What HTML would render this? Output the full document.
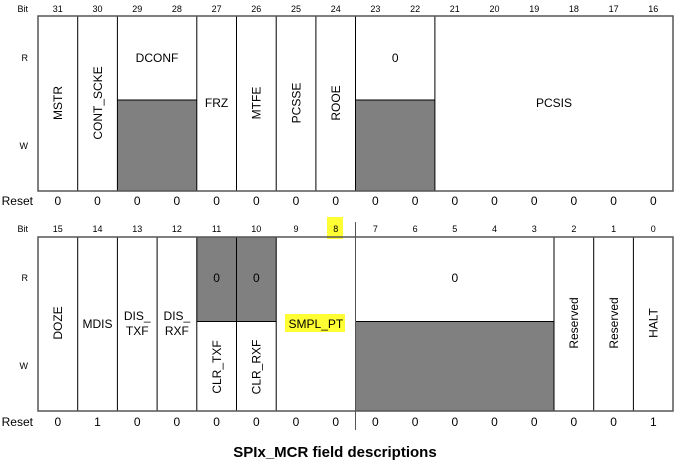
<!DOCTYPE html>
<html><head><meta charset="utf-8"><style>
html,body{margin:0;padding:0;background:#fff;width:677px;height:462px;overflow:hidden}
text{font-family:"Liberation Sans",Arial,sans-serif;fill:#000}
</style></head><body>
<svg width="677" height="462" viewBox="0 0 677 462" xmlns="http://www.w3.org/2000/svg">
<!-- highlights -->
<rect x="327" y="217" width="16" height="22" fill="#ffff33"/>
<rect x="285" y="314" width="60" height="18" fill="#ffff33"/>

<!-- TOP REGISTER -->
<g font-size="9" text-anchor="middle">
<text x="28" y="12" text-anchor="end">Bit</text>
<text x="57.8" y="12">31</text><text x="97.5" y="12">30</text><text x="137.2" y="12">29</text><text x="176.9" y="12">28</text>
<text x="216.6" y="12">27</text><text x="256.3" y="12">26</text><text x="296" y="12">25</text><text x="335.7" y="12">24</text>
<text x="375.4" y="12">23</text><text x="415.1" y="12">22</text><text x="454.8" y="12">21</text><text x="494.5" y="12">20</text>
<text x="534.2" y="12">19</text><text x="573.9" y="12">18</text><text x="613.6" y="12">17</text><text x="653.3" y="12">16</text>
<text x="28" y="61" text-anchor="end">R</text>
<text x="28" y="149" text-anchor="end">W</text>
</g>
<rect x="117.4" y="100" width="79.4" height="91" fill="#808080"/>
<rect x="355.5" y="100" width="79.4" height="91" fill="#808080"/>
<g stroke="#000" stroke-width="1">
<line x1="77.7" y1="16" x2="77.7" y2="191"/><line x1="117.4" y1="16" x2="117.4" y2="191"/>
<line x1="196.8" y1="16" x2="196.8" y2="191"/><line x1="236.5" y1="16" x2="236.5" y2="191"/>
<line x1="276.2" y1="16" x2="276.2" y2="191"/><line x1="315.9" y1="16" x2="315.9" y2="191"/>
<line x1="355.5" y1="16" x2="355.5" y2="191"/><line x1="434.9" y1="16" x2="434.9" y2="191"/>
<line x1="117.4" y1="100" x2="196.8" y2="100"/><line x1="355.5" y1="100" x2="434.9" y2="100"/>
</g>
<rect x="38" y="16" width="635" height="175" fill="none" stroke="#555" stroke-width="1.5"/>
<g font-size="12" text-anchor="middle">
<text x="157" y="62">DCONF</text>
<text x="216.6" y="107">FRZ</text>
<text x="395.2" y="62">0</text>
<text x="554" y="107">PCSIS</text>
<text transform="translate(62,103) rotate(-90)">MSTR</text>
<text transform="translate(101.9,103) rotate(-90)">CONT_SCKE</text>
<text transform="translate(260.7,103) rotate(-90)">MTFE</text>
<text transform="translate(300.4,103) rotate(-90)">PCSSE</text>
<text transform="translate(340.1,103) rotate(-90)">ROOE</text>
</g>
<g font-size="12" text-anchor="middle">
<text x="33" y="205" text-anchor="end">Reset</text>
<text x="57.8" y="205">0</text><text x="97.5" y="205">0</text><text x="137.2" y="205">0</text><text x="176.9" y="205">0</text>
<text x="216.6" y="205">0</text><text x="256.3" y="205">0</text><text x="296" y="205">0</text><text x="335.7" y="205">0</text>
<text x="375.4" y="205">0</text><text x="415.1" y="205">0</text><text x="454.8" y="205">0</text><text x="494.5" y="205">0</text>
<text x="534.2" y="205">0</text><text x="573.9" y="205">0</text><text x="613.6" y="205">0</text><text x="653.3" y="205">0</text>
</g>

<!-- BOTTOM REGISTER -->
<g font-size="9" text-anchor="middle">
<text x="28" y="232" text-anchor="end">Bit</text>
<text x="57.8" y="232">15</text><text x="97.5" y="232">14</text><text x="137.2" y="232">13</text><text x="176.9" y="232">12</text>
<text x="216.6" y="232">11</text><text x="256.3" y="232">10</text><text x="296" y="232">9</text><text x="335.7" y="232">8</text>
<text x="375.4" y="232">7</text><text x="415.1" y="232">6</text><text x="454.8" y="232">5</text><text x="494.5" y="232">4</text>
<text x="534.2" y="232">3</text><text x="573.9" y="232">2</text><text x="613.6" y="232">1</text><text x="653.3" y="232">0</text>
<text x="28" y="281" text-anchor="end">R</text>
<text x="28" y="369" text-anchor="end">W</text>
</g>
<rect x="196.8" y="237" width="79.4" height="84.5" fill="#808080"/>
<rect x="355.5" y="321.5" width="198.5" height="89.5" fill="#808080"/>
<g stroke="#000" stroke-width="1">
<line x1="77.7" y1="237" x2="77.7" y2="411"/><line x1="117.4" y1="237" x2="117.4" y2="411"/>
<line x1="157.1" y1="237" x2="157.1" y2="411"/><line x1="196.8" y1="237" x2="196.8" y2="411"/>
<line x1="236.5" y1="237" x2="236.5" y2="411"/><line x1="276.2" y1="237" x2="276.2" y2="411"/>
<line x1="554" y1="237" x2="554" y2="411"/><line x1="593.7" y1="237" x2="593.7" y2="411"/>
<line x1="633.4" y1="237" x2="633.4" y2="411"/>
<line x1="196.8" y1="321.5" x2="276.2" y2="321.5"/><line x1="355.5" y1="321.5" x2="554" y2="321.5"/>
</g>
<line x1="355.5" y1="222" x2="355.5" y2="430" stroke="#555" stroke-width="1"/>
<rect x="38" y="237" width="635" height="174" fill="none" stroke="#555" stroke-width="1.5"/>
<g font-size="12" text-anchor="middle">
<text x="216.6" y="282">0</text><text x="256.3" y="282">0</text>
<text x="454.8" y="282">0</text>
<text x="97.5" y="328">MDIS</text>
<text x="137.2" y="320">DIS_</text><text x="137.2" y="335">TXF</text>
<text x="176.9" y="320">DIS_</text><text x="176.9" y="335">RXF</text>
<text x="315.9" y="328">SMPL_PT</text>
<text transform="translate(62,323) rotate(-90)">DOZE</text>
<text transform="translate(220.8,367) rotate(-90)">CLR_TXF</text>
<text transform="translate(260.5,367) rotate(-90)">CLR_RXF</text>
<text transform="translate(578.1,323) rotate(-90)">Reserved</text>
<text transform="translate(617.8,323) rotate(-90)">Reserved</text>
<text transform="translate(657.5,323) rotate(-90)">HALT</text>
</g>
<g font-size="12" text-anchor="middle">
<text x="33" y="426" text-anchor="end">Reset</text>
<text x="57.8" y="426">0</text><text x="97.5" y="426">1</text><text x="137.2" y="426">0</text><text x="176.9" y="426">0</text>
<text x="216.6" y="426">0</text><text x="256.3" y="426">0</text><text x="296" y="426">0</text><text x="335.7" y="426">0</text>
<text x="375.4" y="426">0</text><text x="415.1" y="426">0</text><text x="454.8" y="426">0</text><text x="494.5" y="426">0</text>
<text x="534.2" y="426">0</text><text x="573.9" y="426">0</text><text x="613.6" y="426">0</text><text x="653.3" y="426">1</text>
</g>
<text x="335" y="457" font-size="15" font-weight="bold" text-anchor="middle">SPIx_MCR field descriptions</text>
</svg>
</body></html>
